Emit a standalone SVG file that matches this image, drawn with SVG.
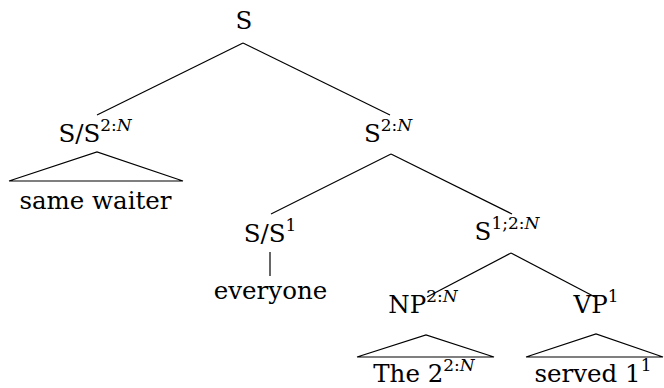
<svg xmlns="http://www.w3.org/2000/svg" width="664" height="388" viewBox="0 0 664 388">
<style>
text{font-family:"DejaVu Serif",serif;font-size:24.5px;fill:#000;text-anchor:middle}
.sup{font-size:17px}
.it{font-style:italic}
line,polyline{stroke:#000;stroke-width:1.2;fill:none}
</style>
<rect width="664" height="388" fill="#fff"/>
<g id="connectors">
<line x1="243" y1="43" x2="97" y2="115"/>
<line x1="243" y1="43" x2="390" y2="115"/>
<line x1="391" y1="154" x2="271" y2="214"/>
<line x1="391" y1="154" x2="512" y2="214"/>
<line x1="270" y1="252" x2="270" y2="276"/>
<line x1="511" y1="253" x2="427" y2="297"/>
<line x1="511" y1="253" x2="595" y2="297"/>
</g>
<g id="n-S"><text x="244" y="29">S</text></g>
<g id="n-SS2N"><text x="95" y="142">S/S<tspan class="sup" dy="-11">2:<tspan class="it">N</tspan></tspan></text>
<polyline points="9,181 97,152 183,181 9,181"/></g>
<g id="n-same-waiter"><text x="95.5" y="209">same waiter</text></g>
<g id="n-S2N"><text x="388" y="142">S<tspan class="sup" dy="-11">2:<tspan class="it">N</tspan></tspan></text></g>
<g id="n-SS1"><text x="270" y="242">S/S<tspan class="sup" dy="-11">1</tspan></text></g>
<g id="n-everyone"><text x="270.5" y="299">everyone</text></g>
<g id="n-S12N"><text x="507" y="240">S<tspan class="sup" dy="-11">1;2:<tspan class="it">N</tspan></tspan></text></g>
<g id="n-NP"><text x="423" y="313">NP<tspan class="sup" dy="-11">2:<tspan class="it">N</tspan></tspan></text>
<polyline points="357,357 426,335 494,357 357,357"/></g>
<g id="n-VP"><text x="596" y="313">VP<tspan class="sup" dy="-11">1</tspan></text>
<polyline points="526,357 596,334 663,357 526,357"/></g>
<g id="n-the2"><text x="424" y="382">The 2<tspan class="sup" dy="-11">2:<tspan class="it">N</tspan></tspan></text></g>
<g id="n-served"><text x="593" y="382">served 1<tspan class="sup" dy="-11">1</tspan></text></g>
</svg>
